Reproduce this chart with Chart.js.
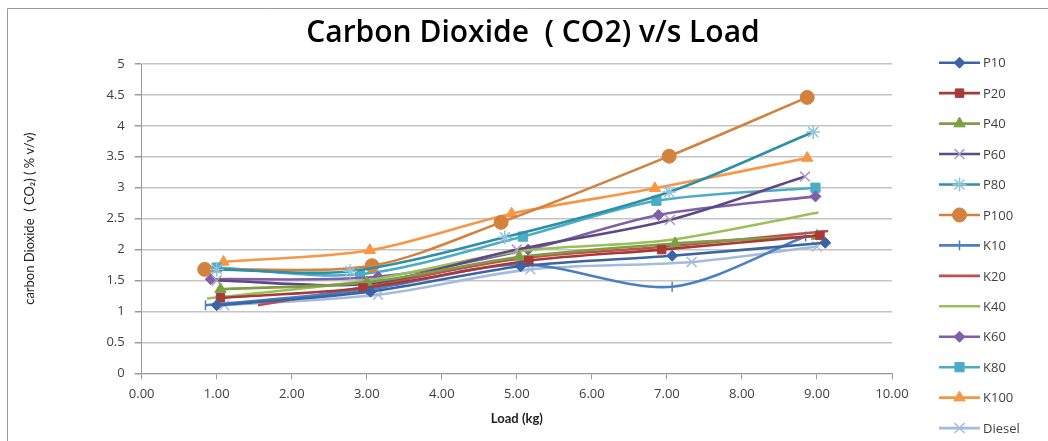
<!DOCTYPE html>
<html lang="en">
<head>
    <meta charset="UTF-8">
    <title>Carbon Dioxide (CO2) v/s Load</title>
    <script src="https://cdn.jsdelivr.net/npm/chart.js"></script>
    <style>
        body { margin: 0; background: #fff; }
        canvas { display: block; }
    </style>
</head>
<body>
    <canvas id="co2Chart" width="1048" height="441"></canvas>

    <script>
        // series names and values (load in kg, CO2 in % v/v)
        const seriesNames = ['P10', 'P20', 'P40', 'P60', 'P80', 'P100', 'K10', 'K20', 'K40', 'K60', 'K80', 'K100', 'Diesel'];

        const p10Load = [1.00, 3.05, 5.05, 7.07, 9.11];
        const p10Co2 = [1.10, 1.32, 1.73, 1.90, 2.11];
        const p20Load = [1.05, 2.95, 5.16, 6.93, 9.04];
        const p20Co2 = [1.22, 1.38, 1.82, 2.00, 2.23];
        const p40Load = [1.05, 3.00, 5.03, 7.11, 9.00];
        const p40Co2 = [1.36, 1.47, 1.88, 2.10, 2.22];
        const p60Load = [1.00, 3.00, 5.00, 7.04, 8.84];
        const p60Co2 = [1.50, 1.45, 2.00, 2.48, 3.18];
        const p80Load = [1.00, 2.78, 4.84, 7.03, 8.95];
        const p80Co2 = [1.68, 1.65, 2.20, 2.93, 3.90];
        const p100Load = [0.84, 3.07, 4.79, 7.03, 8.87];
        const p100Co2 = [1.68, 1.74, 2.44, 3.51, 4.46];
        const k10Load = [0.85, 3.00, 5.05, 7.07, 8.85];
        const k10Co2 = [1.10, 1.35, 1.76, 1.40, 2.21];
        const k20Load = [1.55, 3.00, 5.00, 7.00, 9.15];
        const k20Co2 = [1.10, 1.40, 1.85, 2.05, 2.30];
        const k40Load = [0.87, 3.00, 5.00, 7.00, 9.02];
        const k40Co2 = [1.21, 1.50, 1.97, 2.15, 2.60];
        const k60Load = [0.92, 3.15, 5.15, 6.89, 8.98];
        const k60Co2 = [1.52, 1.56, 2.00, 2.56, 2.86];
        const k80Load = [1.00, 2.91, 5.08, 6.86, 8.98];
        const k80Co2 = [1.71, 1.60, 2.21, 2.79, 3.00];
        const k100Load = [1.09, 3.04, 4.93, 6.84, 8.87];
        const k100Co2 = [1.80, 1.99, 2.58, 2.99, 3.48];
        const dieselLoad = [1.10, 3.15, 5.18, 7.33, 9.00];
        const dieselCo2 = [1.10, 1.27, 1.68, 1.80, 2.05];

        const loadTicks = [0, 1, 2, 3, 4, 5, 6, 7, 8, 9, 10];

        const allLoads = [p10Load, p20Load, p40Load, p60Load, p80Load, p100Load, k10Load, k20Load, k40Load, k60Load, k80Load, k100Load, dieselLoad];
        const allCo2 = [p10Co2, p20Co2, p40Co2, p60Co2, p80Co2, p100Co2, k10Co2, k20Co2, k40Co2, k60Co2, k80Co2, k100Co2, dieselCo2];

        // styling per series
        const lineColors = ['#3C64A5', '#A83A36', '#7E9E45', '#5E4A82', '#2E8FA6', '#D3823E', '#4A80C2', '#C0504D', '#9BC05A', '#7E5FA8', '#4BACC6', '#F79646', '#A5BBDD'];
        const markerColors = ['#3C64A5', '#A83A36', '#7E9E45', '#A99BC4', '#8FC3D8', '#D3823E', '#4A80C2', '#C0504D', '#9BC05A', '#7E5FA8', '#4BACC6', '#F79646', '#A5BBDD'];
        const markerStyles = ['rectRot', 'rect', 'triangle', 'crossRot', 'star', 'circle', 'line', false, false, 'rectRot', 'rect', 'triangle', 'crossRot'];
        const markerSizes = [5.5, 6, 6.5, 7, 7, 7, 5, 0, 0, 5.5, 6.5, 6.5, 7];

        const datasets = seriesNames.map((name, i) => ({
            label: name,
            data: allLoads[i].map((x, j) => ({ x: x, y: allCo2[i][j] })),
            borderColor: lineColors[i],
            backgroundColor: markerColors[i],
            pointBorderColor: markerColors[i],
            pointBackgroundColor: markerColors[i],
            pointStyle: markerStyles[i],
            pointRadius: markerSizes[i],
            pointRotation: markerStyles[i] === 'line' ? 90 : 0,
            pointBorderWidth: (markerStyles[i] === 'crossRot' || markerStyles[i] === 'star' || markerStyles[i] === 'line') ? 1.5 : 1,
            borderWidth: 2.6,
            tension: 0.3,
            fill: false
        }));

        // gray frame round the chart, and the title centred on the plot
        const framePlugin = {
            id: 'frame',
            beforeDraw(chart) {
                const ctx = chart.ctx;
                ctx.save();
                ctx.fillStyle = '#fff';
                ctx.fillRect(0, 0, chart.width, chart.height);
                ctx.strokeStyle = '#9a9a9a';
                ctx.lineWidth = 1;
                ctx.beginPath();
                ctx.moveTo(7.5, chart.height);
                ctx.lineTo(7.5, 8.5);
                ctx.lineTo(chart.width, 8.5);
                ctx.stroke();

                ctx.fillStyle = '#000';
                ctx.font = '600 30px "Open Sans", sans-serif';
                ctx.textAlign = 'center';
                ctx.textBaseline = 'middle';
                ctx.fillText('Carbon Dioxide  ( CO2) v/s Load', 533, 33);
                ctx.restore();
            }
        };

        // legend in Excel style: line with the marker in the middle
        const sideLegend = {
            id: 'sideLegend',
            afterDraw(chart) {
                const ctx = chart.ctx;
                ctx.save();
                chart.data.datasets.forEach((ds, i) => {
                    const y = 62.7 + i * 30.45;
                    ctx.strokeStyle = ds.borderColor;
                    ctx.lineWidth = 2.6;
                    ctx.beginPath();
                    ctx.moveTo(939, y);
                    ctx.lineTo(980, y);
                    ctx.stroke();
                    if (ds.pointStyle) {
                        ctx.fillStyle = ds.pointBackgroundColor;
                        ctx.strokeStyle = ds.pointBorderColor;
                        ctx.lineWidth = ds.pointBorderWidth;
                        Chart.helpers.drawPoint(ctx, {
                            pointStyle: ds.pointStyle,
                            rotation: ds.pointRotation,
                            radius: ds.pointRadius,
                            borderWidth: ds.pointBorderWidth
                        }, 959.5, y);
                    }
                    ctx.fillStyle = '#404040';
                    ctx.font = '13px "Open Sans", sans-serif';
                    ctx.textAlign = 'left';
                    ctx.textBaseline = 'middle';
                    ctx.fillText(ds.label, 983, y + 1);
                });
                ctx.restore();
            }
        };

        const ctx = document.getElementById('co2Chart').getContext('2d');
        const co2Chart = new Chart(ctx, {
            type: 'line',
            data: { datasets: datasets },
            options: {
                responsive: false,
                animation: false,
                layout: {
                    padding: { left: 0, right: 156, top: 64, bottom: 0 }
                },
                plugins: {
                    legend: { display: false },
                    tooltip: { enabled: false },
                    title: { display: false }
                },
                scales: {
                    x: {
                        type: 'linear',
                        min: 0,
                        max: 10,
                        afterBuildTicks: scale => {
                            scale.ticks = loadTicks.map(v => ({ value: v }));
                        },
                        afterFit: scale => { scale.height = 441 - 373.3; },
                        ticks: {
                            color: '#404040',
                            font: { family: '"Open Sans"', size: 13 },
                            padding: 7,
                            maxRotation: 0,
                            callback: v => Number(v).toFixed(2)
                        },
                        grid: {
                            drawOnChartArea: false,
                            drawTicks: true,
                            tickLength: 6,
                            color: '#9a9a9a'
                        },
                        border: { color: '#9a9a9a', width: 1 },
                        title: {
                            display: true,
                            text: 'Load (kg)',
                            color: '#222',
                            font: { family: 'Lato', size: 13, weight: 'bold' },
                            padding: { top: 0, bottom: 14 }
                        }
                    },
                    y: {
                        min: 0,
                        max: 5,
                        afterFit: scale => { scale.width = 141.7; },
                        ticks: {
                            stepSize: 0.5,
                            color: '#404040',
                            font: { family: '"Open Sans"', size: 13 },
                            padding: 10,
                            callback: v => String(Number(v))
                        },
                        grid: {
                            color: '#c4c4c4',
                            lineWidth: 1.5,
                            tickLength: 7,
                            tickColor: '#9a9a9a'
                        },
                        border: { color: '#9a9a9a', width: 1 },
                        title: {
                            display: true,
                            text: 'carbon Dioxide  ( CO₂) ( % v/v)',
                            color: '#222',
                            font: { family: 'Lato', size: 13 },
                            padding: { top: 22, bottom: 0 }
                        }
                    }
                }
            },
            plugins: [framePlugin, sideLegend]
        });
    </script>
</body>
</html>
